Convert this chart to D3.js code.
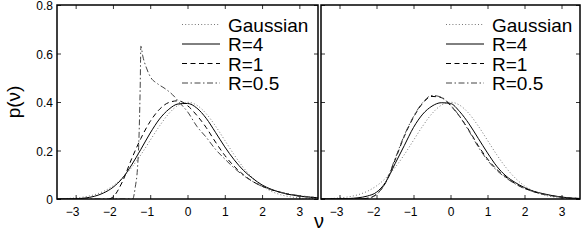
<!DOCTYPE html>
<html><head><meta charset="utf-8">
<script src="https://cdn.jsdelivr.net/npm/d3@7"></script>
<style>body{margin:0;background:#fff}svg{display:block}text{font-family:"Liberation Sans",Arial,sans-serif}</style>
</head><body><svg id="c" width="582" height="242"></svg>
<script>
// ---- data ----
const nuGrid = [-3.5,-3.25,-3,-2.75,-2.5,-2.25,-2,-1.75,-1.5,-1.25,-1,-0.75,-0.5,-0.25,0,0.25,0.5,0.75,1,1.25,1.5,1.75,2,2.25,2.5,2.75,3,3.25,3.5];
const gaussian = [0.0009,0.002,0.0044,0.0091,0.0175,0.0317,0.054,0.0863,0.1295,0.1826,0.242,0.3011,0.3521,0.3867,0.3989,0.3867,0.3521,0.3011,0.242,0.1826,0.1295,0.0863,0.054,0.0317,0.0175,0.0091,0.0044,0.002,0.0009];
// left panel
const leftR4 = [0,0.0005,0.001,0.004,0.011,0.025,0.048,0.085,0.14,0.205,0.272,0.33,0.37,0.392,0.394,0.375,0.333,0.275,0.215,0.162,0.118,0.085,0.058,0.04,0.027,0.018,0.012,0.008,0.005];
const leftR1Nu = [-2.1,-2,-1.75,-1.5,-1.25,-1,-0.75,-0.5,-0.25,0,0.25,0.5,0.75,1,1.25,1.5,1.75,2,2.25,2.5,2.75,3,3.25,3.5];
const leftR1 = [0,0.008,0.07,0.165,0.25,0.32,0.37,0.398,0.405,0.385,0.345,0.295,0.235,0.18,0.135,0.1,0.072,0.053,0.038,0.027,0.018,0.012,0.008,0.005];
const leftR05Nu = [-3.5,-1.47,-1.4,-1.34,-1.3,-1.27,-1.25,-1.2,-1.1,-1,-0.8,-0.6,-0.4,-0.2,0,0.25,0.5,0.75,1,1.25,1.5,1.75,2,2.25,2.5,2.75,3,3.25,3.5];
const leftR05 = [0,0,0.05,0.13,0.26,0.45,0.63,0.59,0.54,0.505,0.475,0.455,0.43,0.395,0.36,0.3,0.255,0.205,0.165,0.128,0.097,0.072,0.052,0.038,0.028,0.02,0.014,0.009,0.006];
// right panel
const rightR4 = [0,0.0005,0.001,0.002,0.005,0.012,0.028,0.07,0.145,0.22,0.295,0.35,0.383,0.397,0.394,0.36,0.31,0.25,0.19,0.135,0.095,0.068,0.047,0.032,0.022,0.014,0.008,0.004,0.002];
const rightR1 = [0,0,0,0,0.0005,0.003,0.02,0.068,0.16,0.258,0.337,0.395,0.423,0.418,0.385,0.34,0.283,0.22,0.165,0.122,0.09,0.063,0.044,0.03,0.02,0.013,0.008,0.004,0.002];
const rightR05 = [0,0,0,0,0.0005,0.003,0.018,0.07,0.165,0.262,0.34,0.398,0.427,0.42,0.388,0.34,0.28,0.215,0.16,0.118,0.087,0.062,0.043,0.03,0.02,0.013,0.008,0.004,0.002];
const xTicks = [-3,-2,-1,0,1,2,3];
const yTicks = [0,0.2,0.4,0.6,0.8];
const legendLabels = ["Gaussian","R=4","R=1","R=0.5"];

// ---- drawing ----
const svg = d3.select("#c");
const plotTop = 5, plotBottom = 199;
const panels = [
  {x0:57, x1:318, yLabels:true, series:[
    {nu:nuGrid, p:gaussian, k:0},{nu:nuGrid, p:leftR4, k:1},{nu:leftR1Nu, p:leftR1, k:2},{nu:leftR05Nu, p:leftR05, k:3}],
   legX:182},
  {x0:321, x1:580, yLabels:false, series:[
    {nu:nuGrid, p:gaussian, k:0},{nu:nuGrid, p:rightR4, k:1},{nu:nuGrid, p:rightR1, k:2},{nu:nuGrid, p:rightR05, k:3}],
   legX:446}
];
const styles = [
  {stroke:"#777", dash:"1,2.2", w:1},
  {stroke:"#000", dash:null, w:1},
  {stroke:"#000", dash:"5,3.5", w:1},
  {stroke:"#444", dash:"6,2.5,1.5,2.5", w:1}
];
const y = d3.scaleLinear().domain([0,0.8]).range([plotBottom, plotTop]);
const fmtY = d => d===0 ? "0" : d3.format(".1f")(d);
const fmtX = d => d<0 ? "\u2212"+Math.abs(d) : String(d);

panels.forEach((P,i) => {
  const x = d3.scaleLinear().domain([-3.5,3.5]).range([P.x0, P.x1]);
  const g = svg.append("g");
  const cid = "clip"+i;
  g.append("clipPath").attr("id",cid).append("rect")
    .attr("x",P.x0).attr("y",plotTop).attr("width",P.x1-P.x0).attr("height",plotBottom-plotTop);
  const cg = g.append("g").attr("clip-path",`url(#${cid})`);
  P.series.forEach(s => {
    const pts = s.nu.map((v,j)=>[v, s.p[j]]);
    const line = d3.line().x(d=>x(d[0])).y(d=>y(d[1])).curve(d3.curveMonotoneX);
    const st = styles[s.k];
    cg.append("path").attr("d", line(pts)).attr("fill","none")
      .attr("stroke",st.stroke).attr("stroke-width",st.w)
      .attr("stroke-dasharray",st.dash);
  });
  const tl = 4;
  const axB = d3.axisBottom(x).tickValues(xTicks).tickSizeInner(-tl).tickSizeOuter(0).tickPadding(8).tickFormat(fmtX);
  const gB = g.append("g").attr("transform",`translate(0,${plotBottom})`).call(axB);
  const axT = d3.axisTop(x).tickValues(xTicks).tickSizeInner(-tl).tickSizeOuter(0).tickFormat("");
  const gT = g.append("g").attr("transform",`translate(0,${plotTop})`).call(axT);
  const axL = d3.axisLeft(y).tickValues(yTicks).tickSizeInner(-tl).tickSizeOuter(0).tickPadding(4).tickFormat(P.yLabels?fmtY:"");
  const gL = g.append("g").attr("transform",`translate(${P.x0},0)`).call(axL);
  const axR = d3.axisRight(y).tickValues(yTicks).tickSizeInner(-tl).tickSizeOuter(0).tickFormat("");
  const gR = g.append("g").attr("transform",`translate(${P.x1},0)`).call(axR);
  [gB,gT,gL,gR].forEach(a=>{
    a.select(".domain").remove();
    a.selectAll("line").attr("stroke","#000").attr("stroke-width",0.8);
    a.selectAll("text").attr("font-size",12).attr("fill","#000").attr("font-family","'Liberation Sans',Arial,sans-serif");
  });
  gL.selectAll("text").attr("dy","0.4em");
  gB.selectAll("text").attr("dx", d => d<0 ? -3.5 : 0);
  g.append("rect").attr("x",P.x0).attr("y",plotTop).attr("width",P.x1-P.x0).attr("height",plotBottom-plotTop)
    .attr("fill","none").attr("stroke","#000").attr("stroke-width",1.5);
  legendLabels.forEach((lab,k) => {
    const base = 31.5 + k*19.5;
    const st = styles[k];
    g.append("line").attr("x1",P.legX).attr("x2",P.legX+38).attr("y1",base-7).attr("y2",base-7)
      .attr("stroke",st.stroke).attr("stroke-width",st.w).attr("stroke-dasharray",st.dash);
    g.append("text").attr("x",P.legX+46).attr("y",base).attr("font-size",19).attr("fill","#000").text(lab);
  });
});
svg.append("text").attr("x",319).attr("y",228).attr("text-anchor","middle").attr("font-size",20).text("\u03bd");
svg.append("text").attr("transform","translate(20,102) rotate(-90)").attr("text-anchor","middle").attr("font-size",19).text("p(\u03bd)");
</script></body></html>
